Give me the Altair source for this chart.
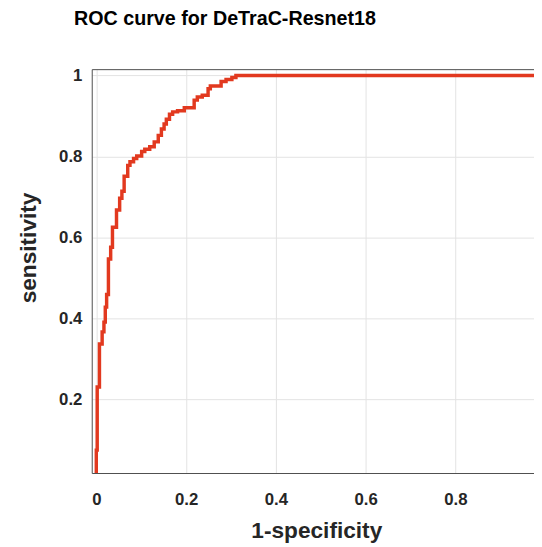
import altair as alt
import pandas as pd

# ROC curve points (1-specificity, sensitivity); each point is where the curve rises to
fpr = [0.0, 0.0, 0.002, 0.007, 0.013, 0.017, 0.020, 0.023, 0.027, 0.032, 0.036,
       0.045, 0.052, 0.057, 0.062, 0.070, 0.075, 0.083, 0.090, 0.101, 0.108,
       0.119, 0.129, 0.138, 0.145, 0.151, 0.156, 0.163, 0.170, 0.181, 0.196,
       0.218, 0.225, 0.236, 0.249, 0.254, 0.278, 0.289, 0.302, 0.311, 1.0]
tpr = [0.0, 0.075, 0.231, 0.337, 0.367, 0.391, 0.428, 0.459, 0.547, 0.576, 0.625,
       0.668, 0.697, 0.714, 0.751, 0.778, 0.787, 0.795, 0.801, 0.812, 0.818,
       0.824, 0.836, 0.852, 0.868, 0.880, 0.892, 0.904, 0.910, 0.913, 0.920,
       0.939, 0.947, 0.951, 0.967, 0.974, 0.985, 0.990, 0.995, 1.0, 1.0]

x_ticks = [0, 0.2, 0.4, 0.6, 0.8]
y_ticks = [0.2, 0.4, 0.6, 0.8, 1.0]

df = pd.DataFrame({"fpr": fpr, "tpr": tpr, "idx": list(range(len(fpr)))})

FONT = "Liberation Sans"
xscale = alt.Scale(domain=[-0.0102, 0.975], nice=False, zero=False)
yscale = alt.Scale(domain=[0.0185, 1.0155], nice=False, zero=False)

y_axis = alt.Axis(values=y_ticks, format="~g", title="sensitivity",
                  labelPadding=10, titlePadding=18, titleY=181)

base = alt.Chart(df)

line = base.mark_line(
    interpolate="step-after", color="#E2391F", strokeWidth=3.5, clip=True
).encode(
    x=alt.X("fpr:Q", scale=xscale,
            axis=alt.Axis(values=x_ticks, format="~g", title="1-specificity",
                          labelPadding=19, titlePadding=12, titleX=228)),
    y=alt.Y("tpr:Q", scale=yscale, axis=y_axis),
    order="idx:Q",
)

border = base.mark_line(opacity=0).encode(
    x=alt.X("fpr:Q", scale=xscale,
            axis=alt.Axis(orient="top", labels=False, ticks=False, grid=False,
                          title=None)),
    y=alt.Y("tpr:Q", scale=yscale, axis=y_axis),
    order="idx:Q",
)

chart = alt.layer(line, border).resolve_axis(x="independent").properties(
    width=449,
    height=410,
    autosize=alt.AutoSizeParams(type="none"),
    padding={"left": 85, "top": 58, "right": 0, "bottom": 70},
    title=alt.TitleParams(
        "ROC curve for DeTraC-Resnet18", anchor="start", frame="group", dx=-18,
        font=FONT, fontSize=20, fontWeight="bold", color="#000000", offset=38,
    ),
).configure_view(stroke=None).configure_axis(
    labelFont=FONT, labelFontSize=17, labelFontWeight="bold", labelColor="#262626",
    titleFont=FONT, titleFontSize=23, titleFontWeight="bold", titleColor="#262626",
    domainColor="#4d4d4d", domainWidth=1, ticks=False,
    gridColor="#e3e3e3", gridWidth=1,
)

chart.save("out.html", embed_options={"renderer": "svg", "actions": False})
